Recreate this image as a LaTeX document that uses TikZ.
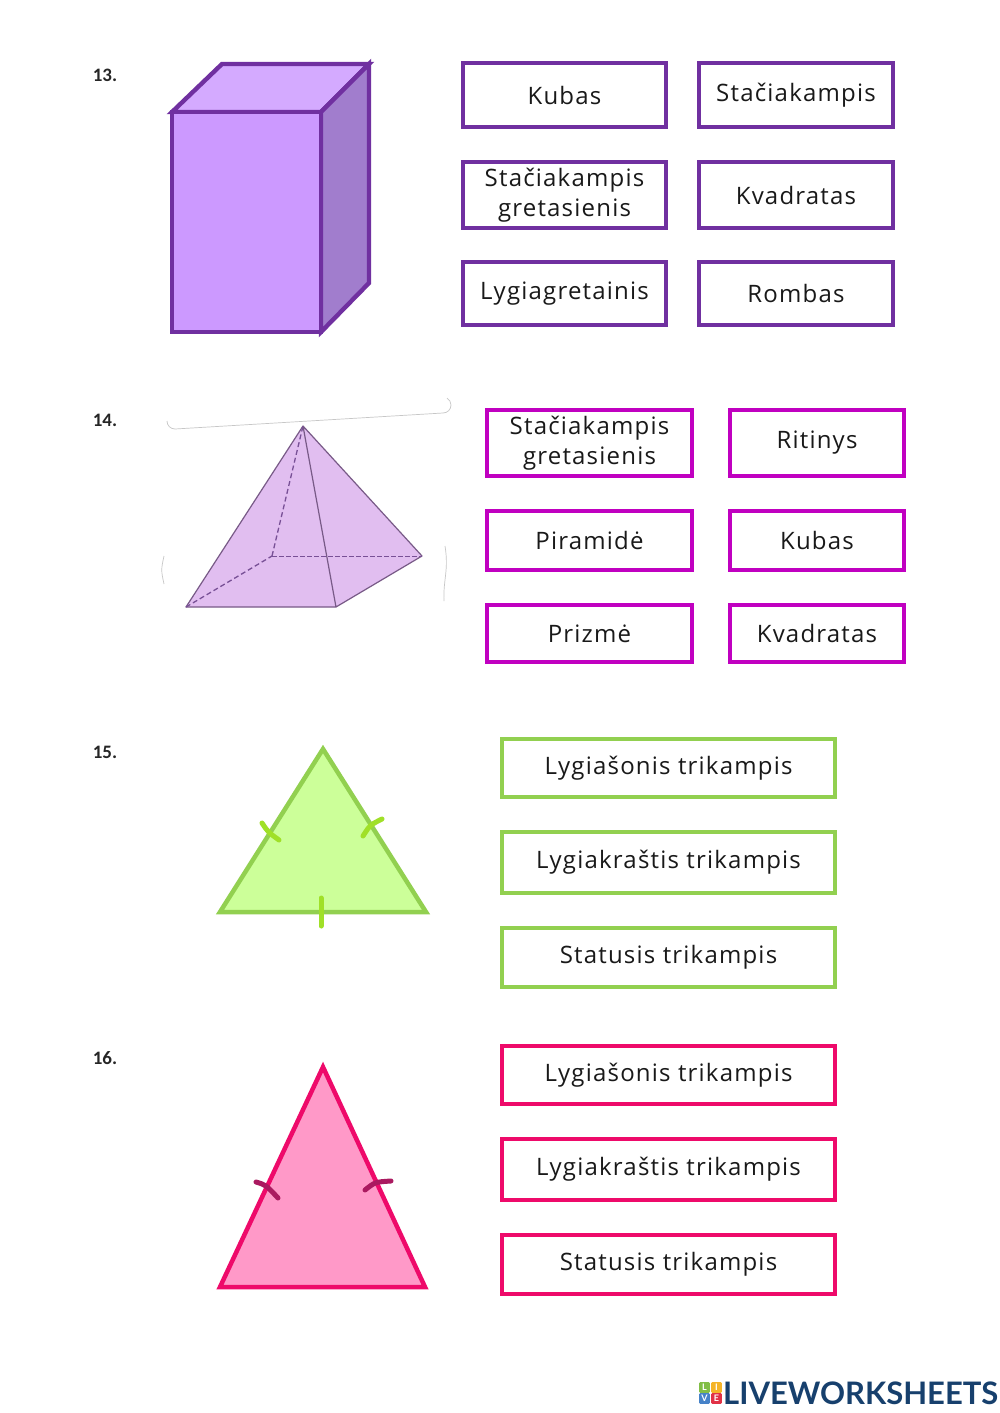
\documentclass[tikz,border=0pt]{standalone}
\usepackage{fontspec}
\setmainfont{Open Sans}
\newfontfamily\handf[LetterSpace=5]{Open Sans}
\newfontfamily\numf{Carlito}
\newfontfamily\logof{Lato}
\definecolor{purp}{HTML}{7030A0}
\definecolor{mag}{HTML}{C000C0}
\definecolor{grn}{HTML}{92D050}
\definecolor{pnk}{HTML}{EE0A6A}
\definecolor{navy}{HTML}{17406D}
\tikzset{
 x=1pt,y=-1pt,
 card/.style={draw,fill=white,line width=4.2pt,font=\handf\fontsize{24}{30}\selectfont,align=center,inner sep=0pt,text=black!90},
 pcard/.style={card,draw=purp},
 mcard/.style={card,draw=mag},
 gcard/.style={card,draw=grn},
 rcard/.style={card,draw=pnk},
 num/.style={font=\numf\bfseries\fontsize{19}{22}\selectfont,text=black!85,inner sep=0pt},
 tick/.style={line width=5pt,line cap=round},
 logosq/.style={inner sep=0pt,minimum size=10.6pt,font=\logof\bfseries\fontsize{9}{9}\selectfont,text=white,rounded corners=1pt},
 faint/.style={draw=black!22,line width=0.7pt},
}
% #1 style, #2 name, #3 x1, #4 y1, #5 x2, #6 y2, #7 text
\newcommand{\cardbox}[7]{%
 \pgfmathsetmacro{\cw}{#5-#3-4.2}\pgfmathsetmacro{\ch}{#6-#4-4.2}%
 \pgfmathsetmacro{\cx}{(#3+#5)/2}\pgfmathsetmacro{\cy}{(#4+#6)/2}%
 \node[#1,minimum width=\cw pt,minimum height=\ch pt] (#2) at (\cx,\cy) {#7};}
\begin{document}
\begin{tikzpicture}
\useasboundingbox[fill=white] (0,0) rectangle (1000,1413);
% numbers
\node[num] (n13) at (105,75) {13.};
\node[num] (n14) at (105,420) {14.};
\node[num] (n15) at (105,752) {15.};
\node[num] (n16) at (105,1058) {16.};
% cuboid
\begin{scope}[draw=purp,line width=4.4pt,line join=miter]
\filldraw[fill=purple!0,fill={rgb,255:red,212;green,170;blue,255}] (172,112) -- (222,64) -- (369,64) -- (321,112) -- cycle;
\filldraw[fill={rgb,255:red,161;green,125;blue,205}] (321,112) -- (369,64) -- (369,283) -- (321,332) -- cycle;
\filldraw[fill={rgb,255:red,204;green,153;blue,255}] (172,112) rectangle (321,332);
\end{scope}
% pyramid
\path[faint,draw] (167,421) arc[start angle=180,end angle=90,radius=8] -- (443,413) arc[start angle=90,end angle=-60,radius=8];
\path[faint,draw] (164,556) .. controls (161,570) .. (164,584);
\path[faint,draw] (445,546) .. controls (449,570) and (443,580) .. (444,601);
\coordinate (pa) at (303,426);
\coordinate (pl) at (186,607);
\coordinate (pf) at (336,607);
\coordinate (pr) at (422,556);
\coordinate (pb) at (272,556);
\fill[fill={rgb,255:red,225;green,190;blue,240}] (pa) -- (pl) -- (pf) -- (pr) -- cycle;
\draw[draw={rgb,255:red,120;green,90;blue,135},line width=1.2pt,line join=round] (pa) -- (pl) -- (pf) -- (pr) -- cycle (pa) -- (pf);
\draw[draw={rgb,255:red,120;green,80;blue,150},line width=1.3pt,dash pattern=on 5pt off 3pt] (pl) -- (pb) (pb) -- (pa);
\draw[draw={rgb,255:red,120;green,80;blue,150},line width=1pt,dash pattern=on 5pt off 2pt] (pb) -- (pr);
% green triangle
\coordinate (ga) at (323,749);
\coordinate (gl) at (220,912);
\coordinate (gr) at (426,912);
\filldraw[fill={rgb,255:red,204;green,255;blue,153},draw=grn,line width=4.5pt,line join=miter] (ga) -- (gl) -- (gr) -- cycle;
\draw[tick,draw={rgb,255:red,160;green,224;blue,40}] (262,823) .. controls (268,832) .. (279,840);
\draw[tick,draw={rgb,255:red,160;green,224;blue,40}] (363,836) .. controls (370,825) .. (382,819);
\draw[tick,draw={rgb,255:red,160;green,224;blue,40}] (321,898) -- (321,926);
% pink triangle
\coordinate (ra) at (323,1067);
\coordinate (rl) at (220,1287);
\coordinate (rr) at (425,1287);
\filldraw[fill={rgb,255:red,255;green,153;blue,200},draw=pnk,line width=4.5pt,line join=miter] (ra) -- (rl) -- (rr) -- cycle;
\draw[tick,draw={rgb,255:red,170;green,26;blue,96}] (256,1182) .. controls (266,1185) .. (278,1198);
\draw[tick,draw={rgb,255:red,170;green,26;blue,96}] (365,1190) .. controls (375,1182) .. (391,1181);
% cards 13
\cardbox{pcard}{a1}{461}{61}{668}{129}{Kubas}
\cardbox{pcard}{a2}{697}{61}{895}{129}{Stačiakampis}
\cardbox{pcard}{a3}{461}{160}{668}{230}{Stačiakampis\\gretasienis}
\cardbox{pcard}{a4}{697}{160}{895}{230}{Kvadratas}
\cardbox{pcard}{a5}{461}{260}{668}{327}{Lygiagretainis}
\cardbox{pcard}{a6}{697}{260}{895}{327}{Rombas}
% cards 14
\cardbox{mcard}{b1}{485}{408}{694}{478}{Stačiakampis\\gretasienis}
\cardbox{mcard}{b2}{728}{408}{906}{478}{Ritinys}
\cardbox{mcard}{b3}{485}{509}{694}{572}{Piramidė}
\cardbox{mcard}{b4}{728}{509}{906}{572}{Kubas}
\cardbox{mcard}{b5}{485}{603}{694}{664}{Prizmė}
\cardbox{mcard}{b6}{728}{603}{906}{664}{Kvadratas}
% cards 15
\cardbox{gcard}{c1}{500}{737}{837}{799}{Lygiašonis trikampis}
\cardbox{gcard}{c2}{500}{830}{837}{895}{Lygiakraštis trikampis}
\cardbox{gcard}{c3}{500}{926}{837}{989}{Statusis trikampis}
% cards 16
\cardbox{rcard}{d1}{500}{1044}{837}{1106}{Lygiašonis trikampis}
\cardbox{rcard}{d2}{500}{1137}{837}{1202}{Lygiakraštis trikampis}
\cardbox{rcard}{d3}{500}{1233}{837}{1296}{Statusis trikampis}
% logo
\node[logosq,fill={rgb,255:red,130;green,190;blue,70}] (l1) at (704.5,1387.5) {L};
\node[logosq,fill={rgb,255:red,245;green,180;blue,40}] (l2) at (716.5,1387.5) {I};
\node[logosq,fill={rgb,255:red,70;green,130;blue,200}] (l3) at (704.5,1398.5) {V};
\node[logosq,fill={rgb,255:red,225;green,50;blue,70}] (l4) at (716.5,1398.5) {E};
\node[anchor=west,inner sep=0pt,text=navy,font=\logof\bfseries\fontsize{31}{31}\selectfont] (logo) at (723,1393) {LIVEWORKSHEETS};
\end{tikzpicture}
\end{document}
